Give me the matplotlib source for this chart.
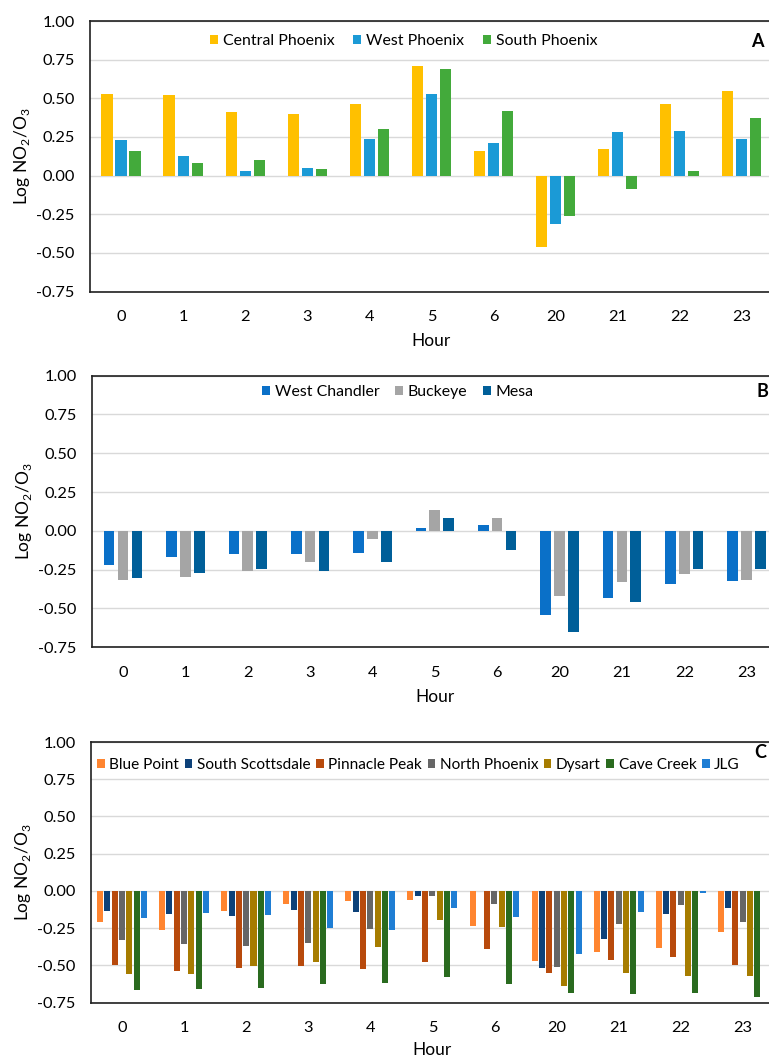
import matplotlib
matplotlib.use('Agg')
import matplotlib.pyplot as plt
import numpy as np

plt.rcParams['font.family'] = ['Lato', 'DejaVu Sans']

horas = ['0', '1', '2', '3', '4', '5', '6', '20', '21', '22', '23']

# painel A
central_phoenix = [0.53, 0.52, 0.41, 0.40, 0.46, 0.71, 0.16, -0.46, 0.17, 0.46, 0.55]
west_phoenix = [0.23, 0.13, 0.03, 0.05, 0.24, 0.53, 0.21, -0.31, 0.28, 0.29, 0.24]
south_phoenix = [0.16, 0.08, 0.10, 0.04, 0.30, 0.69, 0.42, -0.26, -0.085, 0.03, 0.37]

# painel B
west_chandler = [-0.22, -0.17, -0.15, -0.15, -0.14, 0.02, 0.038, -0.545, -0.435, -0.34, -0.325]
buckeye = [-0.315, -0.30, -0.26, -0.20, -0.055, 0.135, 0.083, -0.42, -0.33, -0.28, -0.315]
mesa = [-0.305, -0.27, -0.245, -0.26, -0.20, 0.083, -0.125, -0.65, -0.46, -0.245, -0.245]

# painel C
blue_point = [-0.21, -0.26, -0.137, -0.087, -0.065, -0.06, -0.238, -0.47, -0.413, -0.38, -0.276]
south_scottsdale = [-0.137, -0.157, -0.17, -0.128, -0.139, -0.031, 0.0, -0.516, -0.325, -0.157, -0.114]
pinnacle_peak = [-0.50, -0.538, -0.518, -0.507, -0.522, -0.475, -0.392, -0.554, -0.462, -0.442, -0.498]
north_phoenix = [-0.33, -0.356, -0.372, -0.352, -0.258, -0.036, -0.09, -0.513, -0.22, -0.092, -0.209]
dysart = [-0.56, -0.558, -0.504, -0.478, -0.379, -0.197, -0.242, -0.641, -0.549, -0.572, -0.572]
cave_creek = [-0.664, -0.661, -0.65, -0.628, -0.617, -0.576, -0.626, -0.682, -0.693, -0.682, -0.711]
jlg = [-0.18, -0.146, -0.159, -0.251, -0.26, -0.112, -0.175, -0.426, -0.139, -0.016, 0.0]


def grafico_barras(ax, series, nomes, cores, passo, largura, letra, leg_x, leg_y,
                   letra_xy, colspacing, leg_size=12, hour_pad=6.5):
    x = np.arange(len(horas))
    n = len(series)
    for i, (valores, nome, cor) in enumerate(zip(series, nomes, cores)):
        ax.bar(x + (i - (n - 1) / 2) * passo, valores, largura, color=cor,
               label=nome, zorder=3)
    ax.set_xlim(-0.5, len(horas) - 0.5)
    ax.set_ylim(-0.75, 1.0)
    ax.set_yticks(np.arange(-0.75, 1.01, 0.25))
    ax.yaxis.set_major_formatter(matplotlib.ticker.FormatStrFormatter('%.2f'))
    ax.set_xticks(x)
    ax.set_xticklabels(horas)
    ax.tick_params(axis='both', length=0, labelsize=11.8)
    ax.tick_params(axis='x', pad=13.5)
    ax.tick_params(axis='y', pad=11)
    ax.grid(axis='y', color='#d9d9d9', linewidth=1, zorder=0)
    for s in ax.spines.values():
        s.set_color('#202020')
        s.set_linewidth(1.2)
    ax.set_xlabel('Hour', fontsize=12.5, labelpad=hour_pad)
    ax.set_ylabel(r'Log NO$_\mathregular{2}$/O$_\mathregular{3}$', fontsize=12.5)
    ax.yaxis.set_label_coords(-0.085, 0.5)
    ax.legend(loc='center left', bbox_to_anchor=(leg_x, leg_y), ncol=n,
              frameon=False, fontsize=leg_size, handlelength=0.5, handleheight=0.5,
              handletextpad=0.3, columnspacing=colspacing, borderpad=0,
              borderaxespad=0)
    ax.text(letra_xy[0], letra_xy[1], letra, transform=ax.transAxes,
            fontsize=13, fontweight='bold', ha='center', va='center')


fig = plt.figure(figsize=(7.69, 10.57), dpi=100)

ax_a = fig.add_axes([0.117, 0.7242, 0.888, 0.2559])
grafico_barras(ax_a, [central_phoenix, west_phoenix, south_phoenix],
               ['Central Phoenix', 'West Phoenix', 'South Phoenix'],
               ['#FFC000', '#1B9AD6', '#43AA3B'],
               0.226, 0.18, 'A', 0.176, 0.926, (0.977, 0.926), 1.2,
               leg_size=11.4)

ax_b = fig.add_axes([0.1194, 0.3876, 0.892, 0.257])
grafico_barras(ax_b, [west_chandler, buckeye, mesa],
               ['West Chandler', 'Buckeye', 'Mesa'],
               ['#0A70C8', '#A5A5A5', '#005F99'],
               0.222, 0.17, 'B', 0.248, 0.94, (0.978, 0.94), 1.0,
               leg_size=11.4)

ax_c = fig.add_axes([0.1183, 0.0514, 0.888, 0.2466])
grafico_barras(ax_c, [blue_point, south_scottsdale, pinnacle_peak, north_phoenix,
                      dysart, cave_creek, jlg],
               ['Blue Point', 'South Scottsdale', 'Pinnacle Peak', 'North Phoenix',
                'Dysart', 'Cave Creek', 'JLG'],
               ['#FF8530', '#0D4179', '#B84A0C', '#666666', '#A67C00', '#2A6B1F',
                '#1F7ED4'],
               0.118, 0.097, 'C', 0.009, 0.912, (0.98, 0.958), 0.35,
               leg_size=11.1, hour_pad=4.5)

fig.savefig('out.png', dpi=100)
